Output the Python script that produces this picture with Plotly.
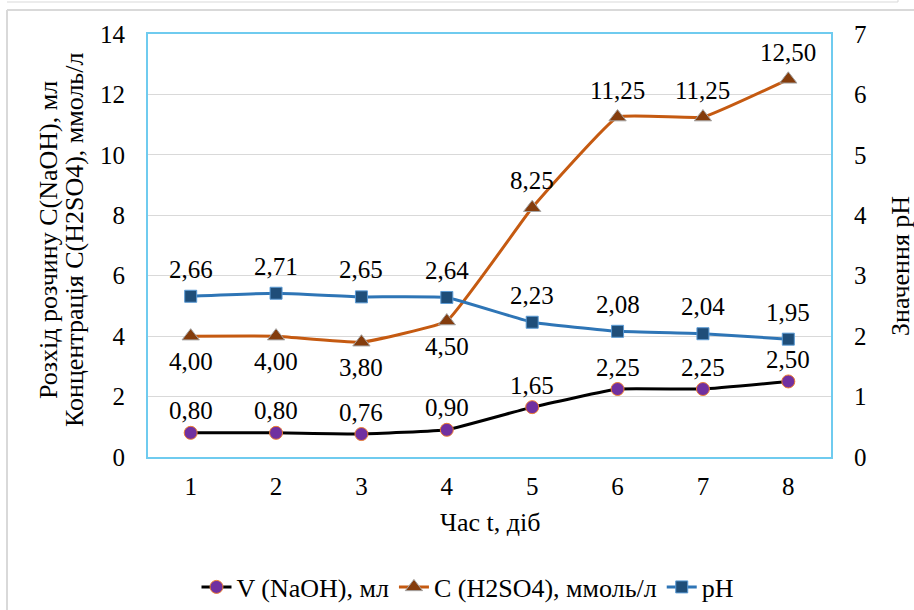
import plotly.graph_objects as go

# Days of observation
days = [1, 2, 3, 4, 5, 6, 7, 8]
# NaOH solution consumed, ml
v_naoh = [0.80, 0.80, 0.76, 0.90, 1.65, 2.25, 2.25, 2.50]
# H2SO4 concentration, mmol/l
c_h2so4 = [4.00, 4.00, 3.80, 4.50, 8.25, 11.25, 11.25, 12.50]
# pH values (right axis)
ph = [2.66, 2.71, 2.65, 2.64, 2.23, 2.08, 2.04, 1.95]

left_ticks = [0, 2, 4, 6, 8, 10, 12, 14]
right_ticks = [0, 1, 2, 3, 4, 5, 6, 7]

FONT = "Liberation Serif"
FS = 25

# plot area in pixels
L, R, T, B = 148, 831, 34, 457
W, H = 914, 610
PW, PH = R - L, B - T


def px_x(x):
    return (x - L) / PW


def px_y(y):
    return (B - y) / PH


def comma(v):
    return f"{v:.2f}".replace(".", ",")


def tf(size=FS):
    return dict(family=FONT, size=size, color="#000000")


fig = go.Figure()

fig.add_trace(go.Scatter(
    x=days, y=v_naoh, name="V (NaOH), мл",
    mode="lines+markers",
    line=dict(color="#000000", width=3, shape="spline", smoothing=0.3),
    marker=dict(symbol="circle", size=13, color="#7030A0",
                line=dict(color="#ED7D31", width=1)),
))

fig.add_trace(go.Scatter(
    x=days, y=c_h2so4, name="C (H2SO4), ммоль/л",
    mode="lines+markers",
    line=dict(color="#C55A11", width=3, shape="spline", smoothing=0.3),
    marker=dict(symbol="triangle-up", size=15, color="#843C0C",
                line=dict(color="#A5A5A5", width=1)),
))

fig.add_trace(go.Scatter(
    x=days, y=ph, name="pH", yaxis="y2",
    mode="lines+markers",
    line=dict(color="#2E75B6", width=3, shape="spline", smoothing=0.3),
    marker=dict(symbol="square", size=12, color="#1F4E79",
                line=dict(color="#5B9BD5", width=1)),
))

# Value labels next to each point
for d, v in zip(days, v_naoh):
    fig.add_annotation(x=d, y=v, xref="x", yref="y", text=comma(v),
                       showarrow=False, yshift=22, font=tf())
for i, (d, v) in enumerate(zip(days, c_h2so4)):
    fig.add_annotation(x=d, y=v, xref="x", yref="y", text=comma(v),
                       showarrow=False, yshift=(-25 if i < 4 else 27), font=tf())
for d, v in zip(days, ph):
    fig.add_annotation(x=d, y=v, xref="x", yref="y2", text=comma(v),
                       showarrow=False, yshift=27, font=tf())

axis_line = "#6FCBEF"

fig.update_layout(
    width=W, height=H,
    margin=dict(l=L, r=W - R, t=T, b=H - B, autoexpand=False),
    paper_bgcolor="white", plot_bgcolor="white",
    font=tf(),
    xaxis=dict(
        range=[0.5, 8.5], tickvals=days, ticktext=[str(d) for d in days],
        tickfont=tf(), automargin=False,
        showgrid=False, zeroline=False,
        showline=True, linecolor=axis_line, linewidth=2, mirror=True,
        ticks="", ticklabelstandoff=6,
    ),
    yaxis=dict(
        range=[0, 14], tickvals=left_ticks, tickfont=tf(), automargin=False,
        showgrid=True, gridcolor="#D9D9D9", gridwidth=1, zeroline=False,
        showline=True, linecolor=axis_line, linewidth=2, mirror=True,
        ticks="", ticklabelstandoff=16,
    ),
    yaxis2=dict(
        range=[0, 7], tickvals=right_ticks, tickfont=tf(), automargin=False,
        overlaying="y", side="right",
        showgrid=False, zeroline=False, showline=False,
        ticks="", ticklabelstandoff=22,
    ),
    legend=dict(
        orientation="h", x=px_x(468), xanchor="center",
        y=px_y(587), yanchor="middle",
        font=tf(26), itemwidth=30, traceorder="normal",
    ),
    showlegend=True,
)

# x axis title
fig.add_annotation(text="Час t, діб", xref="paper", yref="paper",
                   x=0.5, y=px_y(522), xanchor="center", yanchor="middle",
                   showarrow=False, font=tf(26))
# Left axis title, two rotated lines
fig.add_annotation(text="Розхід розчину C(NaOH), мл", xref="paper", yref="paper",
                   x=px_x(48), y=px_y(240), xanchor="center", yanchor="middle",
                   textangle=-90, showarrow=False, font=tf(26))
fig.add_annotation(text="Концентрація C(H2SO4), ммоль/л", xref="paper", yref="paper",
                   x=px_x(74), y=px_y(240), xanchor="center", yanchor="middle",
                   textangle=-90, showarrow=False, font=tf(26))
# Right axis title
fig.add_annotation(text="Значення pH", xref="paper", yref="paper",
                   x=px_x(900), y=px_y(266), xanchor="center", yanchor="middle",
                   textangle=-90, showarrow=False, font=tf(26))

# Outer frame lines around the chart area
frame = "#D9D9D9"
fig.add_shape(type="line", xref="paper", yref="paper",
              x0=px_x(7), x1=px_x(W), y0=px_y(10), y1=px_y(10),
              line=dict(color=frame, width=2))
fig.add_shape(type="line", xref="paper", yref="paper",
              x0=px_x(7), x1=px_x(7), y0=px_y(H), y1=px_y(10),
              line=dict(color=frame, width=2))
fig.add_shape(type="line", xref="paper", yref="paper",
              x0=px_x(7), x1=px_x(898), y0=px_y(2), y1=px_y(2),
              line=dict(color=frame, width=1))
fig.add_shape(type="line", xref="paper", yref="paper",
              x0=px_x(898), x1=px_x(898), y0=px_y(2), y1=px_y(0),
              line=dict(color=frame, width=1))

fig.write_html("out.html")
